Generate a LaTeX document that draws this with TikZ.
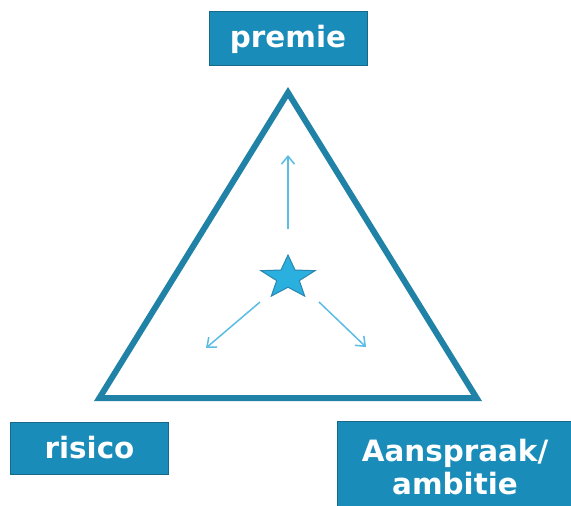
\documentclass[tikz,border=0pt]{standalone}
\usepackage{fontspec}
\setmainfont{DejaVu Sans}
\usetikzlibrary{arrows.meta}
\definecolor{boxfill}{HTML}{1A8CB9}
\definecolor{boxline}{HTML}{17698A}
\definecolor{triline}{HTML}{1F82A6}
\definecolor{arrowcol}{HTML}{5BBCE4}
\definecolor{starfill}{HTML}{2AB0DF}
\definecolor{starline}{HTML}{2A86AE}
\tikzset{
  labelbox/.style={draw=boxline, line width=1bp, fill=boxfill, text=white,
    font=\bfseries\fontsize{29.5}{33.3}\selectfont, inner sep=0pt, align=center},
  triline/.style={draw=triline, line width=6bp, line join=miter},
  movearrow/.style={draw=arrowcol, line width=1.5bp, -{Straight Barb[length=8bp,width=13bp]}},
  starshape/.style={draw=starline, line width=1bp, fill=starfill, line join=miter}
}
\begin{document}
\begin{tikzpicture}[x=1bp,y=-1bp]
\clip (0,0) rectangle (571,506);
\fill[white] (0,0) rectangle (571,506);
% triangle
\draw[triline] (288,92.7) -- (99.4,398) -- (476.6,398) -- cycle;
% label boxes
\node[labelbox, minimum width=158bp, minimum height=54bp] (premie) at (288,39) {premie};
\node[labelbox, minimum width=157bp, minimum height=52bp] (risico) at (89.5,448) {risico};
\node[labelbox, minimum width=236bp, minimum height=92bp] (aanspraak) at (455,467) {Aanspraak/\\ambitie};
% star
\draw[starshape] (288,255.0) -- (281.0,270.0) -- (261.0,270.7) -- (276.7,280.6) -- (271.3,296.1)
  -- (288,287.2) -- (304.7,296.1) -- (299.3,280.6) -- (315.0,270.7) -- (295.0,270.0) -- cycle;
% arrows
\coordinate (upS) at (288,229);
\coordinate (upE) at (288,155);
\coordinate (leftS) at (260,302);
\coordinate (leftE) at (206,348);
\coordinate (rightS) at (319,302);
\coordinate (rightE) at (366,347);
\draw[movearrow] (upS) -- (upE);
\draw[movearrow] (leftS) -- (leftE);
\draw[movearrow] (rightS) -- (rightE);
\end{tikzpicture}
\end{document}
